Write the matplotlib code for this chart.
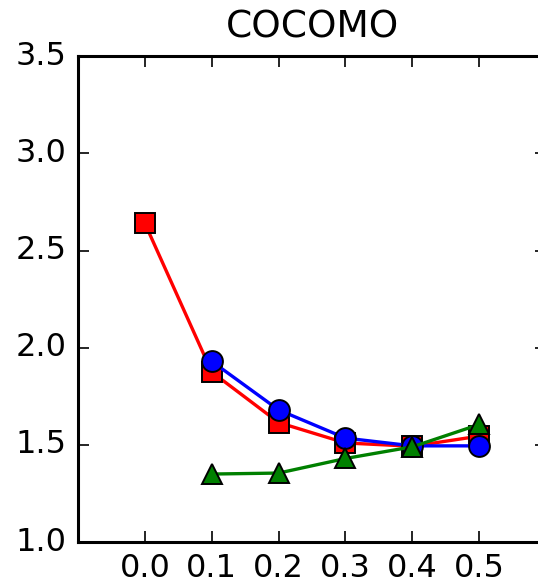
import numpy as np
import matplotlib
matplotlib.use('Agg')
import matplotlib.pyplot as plt

plt.style.use('classic')

x_red = [0.0, 0.1, 0.2, 0.3, 0.4, 0.5]
y_red = [2.64, 1.875, 1.615, 1.51, 1.493, 1.545]
x_blue = [0.1, 0.2, 0.3, 0.4, 0.5]
y_blue = [1.93, 1.68, 1.535, 1.495, 1.495]
x_green = [0.1, 0.2, 0.3, 0.4, 0.5]
y_green = [1.35, 1.355, 1.43, 1.49, 1.605]

xticks = [0.0, 0.1, 0.2, 0.3, 0.4, 0.5]
yticks = [1.0, 1.5, 2.0, 2.5, 3.0, 3.5]

fig = plt.figure(figsize=(5.38, 5.86), dpi=100)
ax = fig.add_axes([0.145, 0.075, 0.87, 0.829])

ax.plot(x_red, y_red, 'rs-', lw=2.4, ms=15, mew=1.4, mec='k')
ax.plot(x_blue, y_blue, 'bo-', lw=2.4, ms=15, mew=1.4, mec='k')
ax.plot(x_green, y_green, 'g^-', lw=2.4, ms=15, mew=1.4, mec='k')

ax.set_xlim(-0.1, 0.6)
ax.set_ylim(1.0, 3.5)
ax.set_xticks(xticks)
ax.set_yticks(yticks)
ax.set_xticklabels(['%.1f' % v for v in xticks])
ax.set_yticklabels(['%.1f' % v for v in yticks])
ax.tick_params(labelsize=23, length=8, width=1.2, pad=8)
for s in ax.spines.values():
    s.set_linewidth(2.2)
ax.set_title('COCOMO', fontsize=27, y=1.025)

fig.savefig('out.png', dpi=100)
